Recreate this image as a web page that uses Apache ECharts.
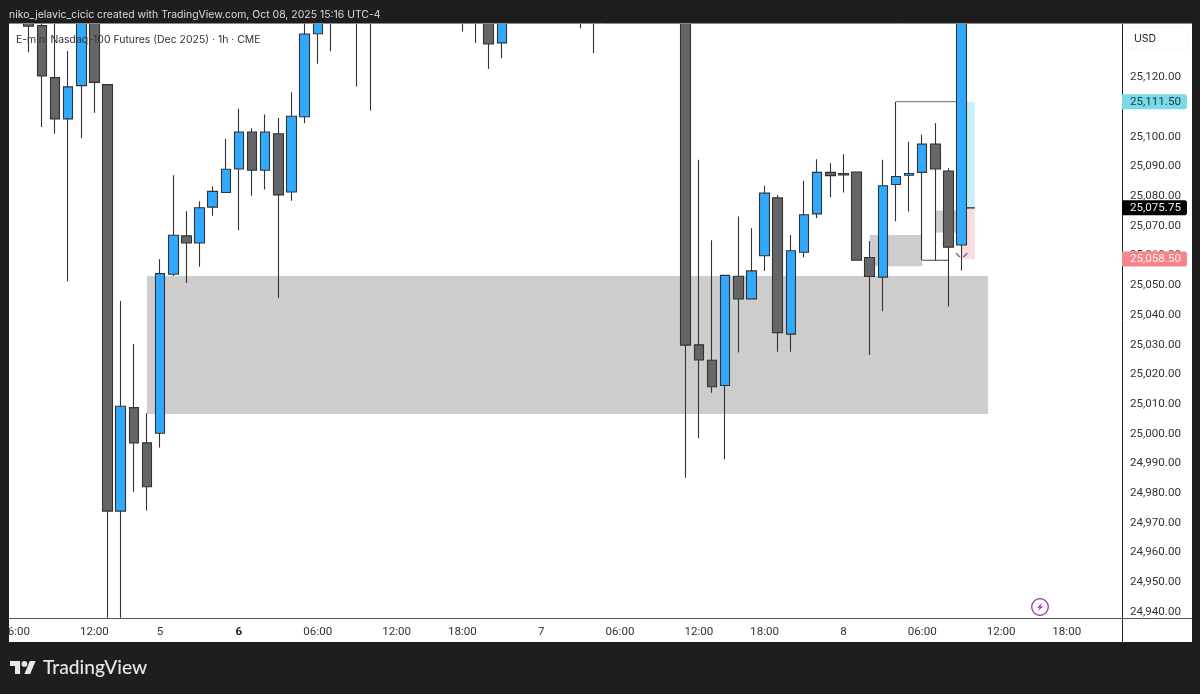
<!DOCTYPE html>
<html>
<head>
<meta charset="utf-8">
<title>E-mini Nasdaq-100 Futures</title>
<style>
  html, body { margin: 0; padding: 0; background: #1e1e1e; }
  #main { width: 1200px; height: 694px; }
</style>
<script src="https://cdn.jsdelivr.net/npm/echarts@6/dist/echarts.min.js"></script>
</head>
<body>
<div id="main"></div>
<script>
// hourly bars, blank = no label on the time axis
const timeLabels = ['06:00','','','','','','12:00','','','','','5','','','','','','6','','','','','','06:00','','','','','','12:00','','','','','18:00','','','','','','7','','','','','','06:00','','','','','','12:00','','','','','18:00','','','','','','8','','','','','','06:00','','','','','','12:00','','','','','18:00','','','',''];

// bars above the visible range are estimates, only their wick ends can be seen
const opens = [25150,25142,25137.1,25119.6,25105.7,25116.9,25150,25117.25,24973.6,25008.45,24996.6,24999.8,25053.4,25066.3,25063.9,25076,25080.9,25088.85,25101.3,25088.4,25100.7,25081.1,25106.4,25134.4,25148,25152,25150,25144,25158,25160,25162,25165,25163,25160,25150,25148,25142,25131.3,25150,25152,25155,25153,25150,25148,25146,25150,25155,25158,25160,25162,25160,25150,25029.6,25024.4,25015.9,25052.7,25045.1,25059.6,25079.1,25033.2,25060.8,25073.7,25087.7,25087.3,25087.8,25059,25052.4,25083.6,25086.7,25087.7,25097.2,25088.1,25063.25];
const closes = [25148,25136.9,25120.2,25105.7,25116.5,25145,25118,24973.6,25008.9,24996.6,24981.8,25053.6,25066.5,25063.9,25075.8,25081.3,25088.75,25101.3,25088.4,25101.3,25080.1,25106.6,25134.3,25145,25142,25146,25144,25150,25160,25162,25165,25163,25160,25158,25145,25142,25130.95,25145,25152,25155,25153,25150,25148,25146,25150,25155,25158,25160,25162,25160,25158,25029.5,25024.5,25015.5,25053,25045.1,25054.5,25080.7,25033.7,25061.3,25073.4,25087.7,25086.6,25086.8,25058.1,25052.6,25083.2,25086.3,25087.3,25097.2,25088.85,25062.5,25145];
const lows = [25141,25128.15,25103,25100.7,25051,25099.2,25107.8,24937.7,24937.7,24980,24973.8,24995,25052.8,25050.45,25055.9,25073.1,25080.9,25068.2,25079.85,25081.9,25045.5,25078.1,25104.2,25124.3,25128.5,25140,25116.6,25108.5,25150,25152,25155,25155,25150,25148,25135.1,25131.3,25122.5,25126.1,25142,25146,25148,25144,25140,25136.2,25127.8,25144,25148,25152,25155,25152,25150,24984.8,24998.1,25013.5,24991.1,25027,25045.1,25054.5,25027.3,25027.3,25059.1,25072.2,25079.2,25080.9,25058.1,25026.2,25040.9,25071.2,25074.5,25058.1,25058.1,25042.5,25054.6];
const highs = [25156,25146,25141,25142,25128.6,25150,25155,25117.25,25044.4,25029.9,25006.6,25058.4,25086.7,25074.6,25078,25082.9,25099,25109.15,25102.55,25107.15,25106,25114.7,25142,25150,25150,25156,25155,25155,25165,25168,25170,25168,25166,25165,25155,25152,25148,25150,25158,25160,25158,25156,25154,25152,25155,25160,25165,25168,25166,25165,25164,25155,25091.9,25064.8,25053,25072.8,25068.9,25083.2,25080.1,25066.6,25084.9,25092.1,25090.8,25093.8,25087.8,25064.6,25091.9,25111.5,25098,25100.4,25104.3,25089.1,25150];

// price axis, 25,110 sits under the entry tag
const priceTicks = [25120,25100,25090,25080,25070,25060,25050,25040,25030,25020,25010,25000,24990,24980,24970,24960,24950,24940];
const entryPrice = 25111.5;
const lastPrice = 25075.75;
const stopPrice = 25058.5;

// drawn zones: bar index from/to, price from/to
const zoneBars = [[10,74],[65,69],[70,72]];
const zonePrices = [[25052.8,25006.3],[25066.6,25056.1],[25074.8,25067.4]];

const ui = 'Inter, "Liberation Sans", sans-serif';
const axisFont = 'Roboto, "Liberation Sans", sans-serif';

function money(v) {
  return v.toLocaleString('en-US', { minimumFractionDigits: 2, maximumFractionDigits: 2 });
}

const candles = opens.map(function (o, i) { return [o, closes[i], lows[i], highs[i]]; });
const zones = zoneBars.map(function (b, i) {
  return [{ xAxis: b[0], yAxis: zonePrices[i][0] }, { xAxis: b[1], yAxis: zonePrices[i][1] }];
});

function levelLine(points, color) {
  return {
    type: 'line', data: points, symbol: 'none', z: 1, silent: true,
    lineStyle: { color: color, width: 1.2 }
  };
}

const chart = echarts.init(document.getElementById('main'));
chart.setOption({
  animation: false,
  backgroundColor: '#1e1e1e',
  grid: { left: 9, top: 23, width: 1116.9, height: 595, outerBoundsMode: 'none' },
  xAxis: {
    type: 'category',
    data: timeLabels,
    axisTick: { show: false },
    splitLine: { show: false },
    axisLine: { lineStyle: { color: '#555', width: 1 } },
    axisLabel: {
      interval: 0, margin: 8, color: '#333', fontSize: 11.6, fontFamily: axisFont,
      formatter: function (v) { return v === '6' ? '{b|6}' : v; },
      rich: { b: { fontWeight: 'bold', fontSize: 11.6, fontFamily: axisFont, color: '#222' } }
    }
  },
  yAxis: {
    type: 'value',
    position: 'right',
    offset: -3.9,
    min: 24937.6,
    max: 25138,
    splitLine: { show: false },
    axisTick: { show: false },
    axisLine: { show: true, lineStyle: { color: '#222', width: 1 } },
    axisLabel: {
      margin: 0, fontFamily: axisFont, fontSize: 11.6, color: '#333',
      customValues: priceTicks.concat([entryPrice, lastPrice, stopPrice]),
      formatter: function (v) {
        if (v === entryPrice) return '{entry|' + money(v) + '}';
        if (v === lastPrice) return '{last|' + money(v) + '}';
        if (v === stopPrice) return '{stop|' + money(v) + '}';
        return '{n|' + money(v) + '}';
      },
      rich: {
        n: { padding: [2, 0, 0, 8], fontFamily: axisFont, fontSize: 11.6, color: '#333' },
        entry: { backgroundColor: '#7adbe8', color: '#1a3a40', padding: [2, 6, 1, 8], borderRadius: [0, 2, 2, 0], fontFamily: axisFont, fontSize: 11.6 },
        last: { backgroundColor: '#000', color: '#eee', padding: [2, 6, 1, 8], borderRadius: [0, 2, 2, 0], fontFamily: axisFont, fontSize: 11.6 },
        stop: { backgroundColor: '#f6848c', color: '#fdeeee', padding: [2, 6, 1, 8], borderRadius: [0, 2, 2, 0], fontFamily: axisFont, fontSize: 11.6 }
      }
    }
  },
  series: [
    {
      type: 'candlestick',
      data: candles,
      barWidth: 10,
      z: 3,
      itemStyle: { color: '#31a9ff', color0: '#666666', borderColor: '#333', borderColor0: '#333', borderWidth: 1.1 },
      markArea: {
        silent: true,
        itemStyle: { color: '#cdcdcd' },
        data: zones
      }
    },
    {
      // long/short position box
      type: 'line', data: [], silent: true, z: 1,
      markArea: {
        silent: true,
        data: [
          [{ xAxis: 72, yAxis: entryPrice, itemStyle: { color: '#c9eff8' } }, { xAxis: 73, yAxis: lastPrice }],
          [{ xAxis: 72, yAxis: lastPrice, itemStyle: { color: '#fadcdf' } }, { xAxis: 73, yAxis: stopPrice }]
        ]
      }
    },
    levelLine([[67, entryPrice], [72, entryPrice]], '#888'),
    levelLine([[69, 25058.1], [71, 25058.1]], '#444'),
    levelLine([[72, lastPrice], [73, lastPrice]], '#222'),
    {
      type: 'scatter', data: [[72, 25059.8]], z: 2, silent: true,
      symbol: 'path://M0 0L4 4M12 0L8 4',
      symbolSize: [11, 4],
      itemStyle: { color: 'none', borderColor: '#444', borderWidth: 1 }
    }
  ],
  graphic: [
    { type: 'rect', z: -5, silent: true, shape: { x: 9, y: 23, width: 1183, height: 619 }, style: { fill: '#fff' } },
    // bars above the pane run past the grid, the frame covers them
    { type: 'rect', z: 40, silent: true, shape: { x: 0, y: 0, width: 1200, height: 23 }, style: { fill: '#1e1e1e' } },
    { type: 'rect', z: 50, silent: true, shape: { x: 0, y: 600, width: 9, height: 60 }, style: { fill: '#1e1e1e' } },
    { type: 'line', z: 45, silent: true, shape: { x1: 9, y1: 23.5, x2: 1192, y2: 23.5 }, style: { stroke: '#8a8a8a', lineWidth: 1 } },
    { type: 'line', z: 20, silent: true, shape: { x1: 9, y1: 618.5, x2: 1192, y2: 618.5 }, style: { stroke: '#555', lineWidth: 1 } },
    { type: 'line', z: 20, silent: true, shape: { x1: 1122.5, y1: 618, x2: 1122.5, y2: 642 }, style: { stroke: '#222', lineWidth: 1 } },
    { type: 'text', z: 60, silent: true, style: { x: 9, y: 15, text: 'niko_jelavic_cicic created with TradingView.com, Oct 08, 2025 15:16 UTC-4', fill: '#dcdcdc', font: '10.45px ' + ui, verticalAlign: 'middle' } },
    { type: 'text', z: 60, silent: true, style: { x: 16, y: 39.5, text: 'E-mini Nasdaq-100 Futures (Dec 2025) · 1h · CME', fill: '#333', font: '10.45px ' + ui, verticalAlign: 'middle' } },
    { type: 'rect', z: 30, silent: true, shape: { x: 1126, y: 27, width: 62, height: 22, r: 3 }, style: { fill: '#fff', stroke: '#f6f6f6', lineWidth: 1 } },
    { type: 'text', z: 60, silent: true, style: { x: 1134, y: 38.5, text: 'USD', fill: '#222', font: '10.5px ' + ui, verticalAlign: 'middle' } },
    // lightning badge
    { type: 'circle', z: 30, silent: true, shape: { cx: 1040, cy: 607, r: 8.3 }, style: { fill: '#fff', stroke: '#8e24aa', lineWidth: 1.2 } },
    { type: 'polygon', z: 31, silent: true, shape: { points: [[1042.8, 602.5], [1037, 607.8], [1040, 607.6], [1037.4, 611.5], [1043.2, 606.2], [1040.2, 606.4]] }, style: { fill: '#8e24aa' } },
    // logo
    { type: 'polygon', z: 60, silent: true, shape: { points: [[10, 661], [20.1, 661], [20.1, 674], [15, 674], [15, 666], [10, 666]] }, style: { fill: '#e8e8e8' } },
    { type: 'polygon', z: 60, silent: true, shape: { points: [[29.8, 661], [35.6, 661], [30.2, 674], [24.4, 674]] }, style: { fill: '#e8e8e8' } },
    { type: 'circle', z: 60, silent: true, shape: { cx: 24.4, cy: 663.9, r: 2.9 }, style: { fill: '#e8e8e8' } },
    { type: 'text', z: 60, silent: true, style: { x: 43, y: 668, text: 'TradingView', fill: '#e8e8e8', font: '500 19.2px Lato, ' + ui, verticalAlign: 'middle' } }
  ]
});
</script>
</body>
</html>
